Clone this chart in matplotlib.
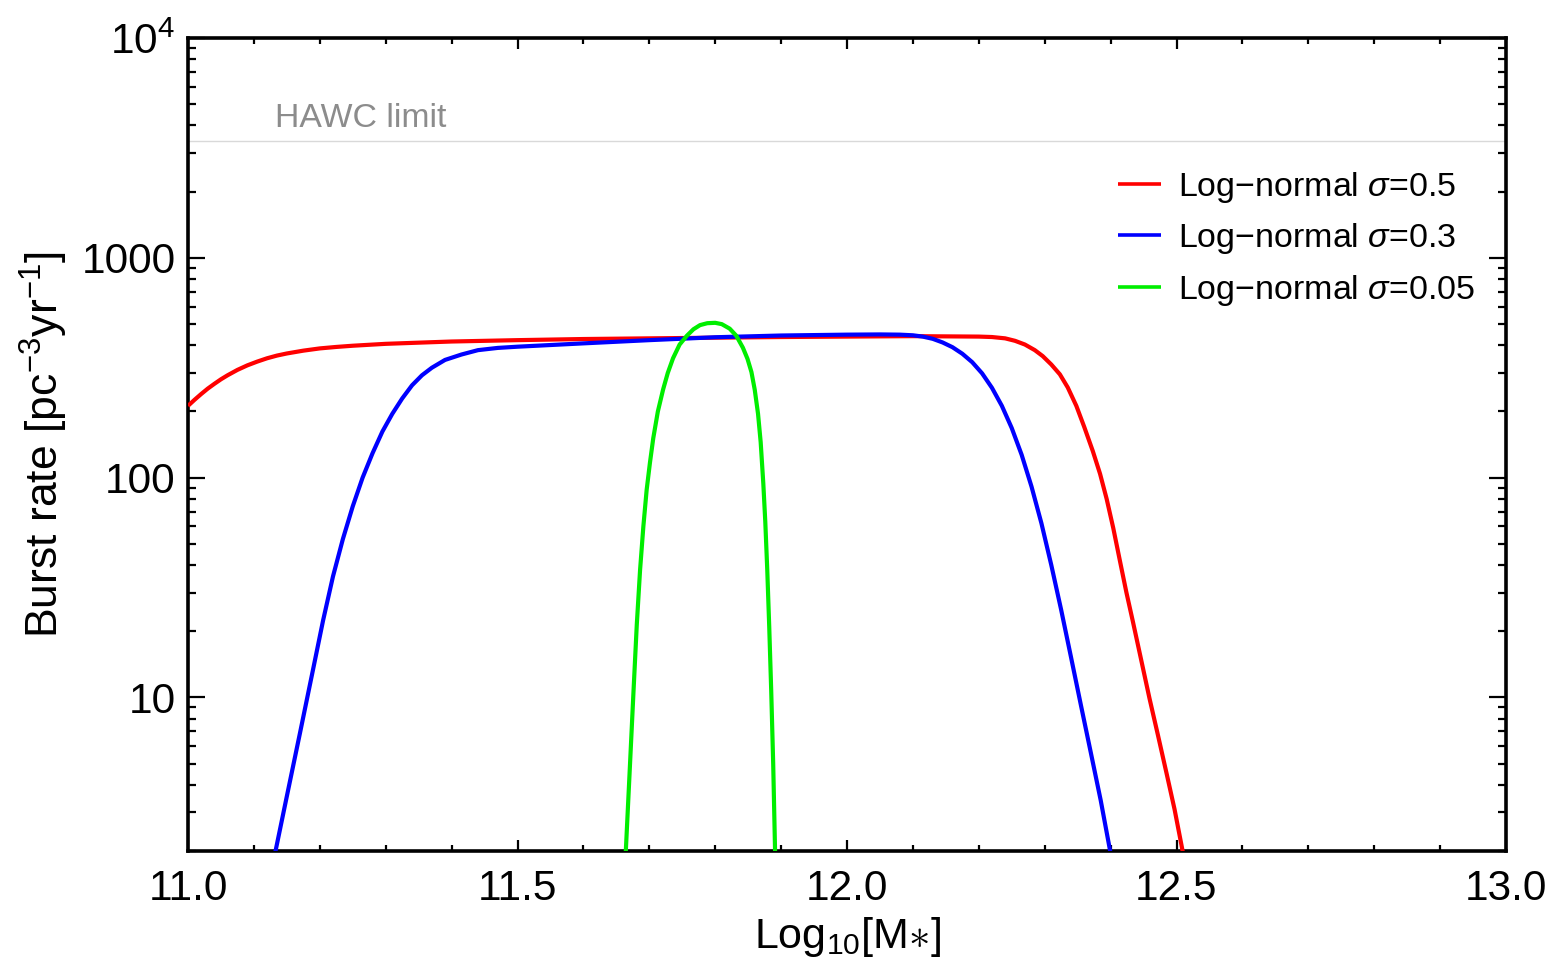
import matplotlib
matplotlib.use("Agg")
import matplotlib.pyplot as plt
from matplotlib.ticker import FixedLocator, MultipleLocator, LogLocator, NullFormatter

plt.rcParams['font.family'] = ['Liberation Sans', 'DejaVu Sans']
plt.rcParams['mathtext.fontset'] = 'custom'
plt.rcParams['mathtext.rm'] = 'Liberation Sans'
plt.rcParams['mathtext.it'] = 'Liberation Sans:italic'
plt.rcParams['mathtext.bf'] = 'Liberation Sans:bold'

# Burst rate vs. log10 of the central mass for three log-normal widths
x_s05 = [11.00, 11.01, 11.02, 11.03, 11.04, 11.05, 11.06, 11.075, 11.09, 11.105,
         11.12, 11.135, 11.15, 11.175, 11.20, 11.225, 11.25, 11.275, 11.30, 11.35,
         11.40, 11.50, 11.60, 11.70, 11.80, 11.90, 12.00, 12.10, 12.20, 12.22,
         12.24, 12.255, 12.27, 12.285, 12.297, 12.31, 12.323, 12.335, 12.348, 12.36,
         12.373, 12.384, 12.394, 12.404, 12.414, 12.424, 12.434, 12.446, 12.459, 12.472,
         12.485, 12.497, 12.51]
y_s05 = [212, 226, 240, 254, 267, 280, 292, 309, 324, 337,
         349, 359, 367, 378, 387, 393, 398, 402, 406, 411,
         416, 422, 427, 430, 433, 436, 438, 440, 438, 436,
         430, 419, 403, 380, 357, 327, 295, 257, 212, 170,
         132, 104, 80, 59, 42, 30, 22, 15, 9.9, 6.7,
         4.5, 3.1, 1.95]

x_s03 = [11.13, 11.15, 11.17, 11.19, 11.205, 11.22, 11.235, 11.25, 11.265, 11.28,
         11.295, 11.31, 11.325, 11.34, 11.355, 11.37, 11.39, 11.415, 11.44, 11.47,
         11.50, 11.60, 11.70, 11.80, 11.90, 12.00, 12.05, 12.08, 12.10, 12.115,
         12.13, 12.145, 12.16, 12.175, 12.19, 12.205, 12.22, 12.235, 12.25, 12.265,
         12.28, 12.295, 12.31, 12.325, 12.34, 12.355, 12.37, 12.385, 12.40]
y_s03 = [1.82, 3.55, 6.9, 13.5, 22.4, 35.5, 52.5, 74, 100, 129,
         162, 195, 229, 263, 292, 316, 343, 363, 380, 389,
         394, 408, 422, 435, 443, 447, 448, 447, 444, 438,
         428, 412, 392, 366, 335, 298, 256, 212, 168, 127,
         91, 62, 40, 25, 15.2, 9.2, 5.6, 3.4, 1.95]

x_s005 = [11.664, 11.670, 11.676, 11.681, 11.686, 11.691, 11.696, 11.701, 11.706, 11.713,
          11.721, 11.728, 11.736, 11.746, 11.757, 11.767, 11.777, 11.788, 11.800, 11.810,
          11.822, 11.832, 11.842, 11.849, 11.855, 11.860, 11.865, 11.869, 11.873, 11.876,
          11.879, 11.882, 11.885, 11.888, 11.891]
y_s005 = [1.9, 4.47, 10.6, 21.4, 38, 60, 88, 117, 151, 200,
          252, 299, 349, 403, 442, 473, 494, 504, 506, 499,
          476, 442, 390, 347, 302, 251, 195, 145, 94, 63,
          38, 20.9, 10.7, 5.0, 1.9]

hawc_limit = 3400

series = [
    (x_s05, y_s05, '#ff0000', r'Log$-$normal $\sigma$=0.5'),
    (x_s03, y_s03, '#0000ff', r'Log$-$normal $\sigma$=0.3'),
    (x_s005, y_s005, '#00ee00', r'Log$-$normal $\sigma$=0.05'),
]

fig = plt.figure(figsize=(15.52, 9.72), dpi=100)
ax = fig.add_axes([188 / 1552, 1 - 851 / 972, (1506 - 188) / 1552, (851 - 38) / 972])

ax.axhline(hawc_limit, color='#d9d9d9', lw=1.0, zorder=1)
ax.text(11.132, 3950, 'HAWC limit', color='#8c8c8c', fontsize=24.3,
        ha='left', va='baseline')

for xs, ys, col, lab in series:
    ax.plot(xs, ys, color=col, lw=3.0, label=lab, solid_joinstyle='round',
            solid_capstyle='butt', zorder=3)

ax.set_xlim(11.0, 13.0)
ax.set_yscale('log')
ax.set_ylim(2, 1e4)

ax.xaxis.set_major_locator(FixedLocator([11.0, 11.5, 12.0, 12.5, 13.0]))
ax.set_xticklabels(['11.0', '11.5', '12.0', '12.5', '13.0'])
ax.xaxis.set_minor_locator(MultipleLocator(0.1))

ax.yaxis.set_major_locator(FixedLocator([10, 100, 1000, 10000]))
ax.set_yticklabels(['10', '100', '1000', r'$10^4$'])
ax.yaxis.set_minor_locator(LogLocator(base=10, subs=range(2, 10), numticks=20))
ax.yaxis.set_minor_formatter(NullFormatter())

ax.tick_params(axis='both', which='both', direction='in', top=True, right=True,
               labelsize=30.5, width=1.6, colors='black')
ax.tick_params(axis='x', which='major', length=8, pad=13)
ax.tick_params(axis='x', which='minor', length=4.5)
ax.tick_params(axis='y', which='major', length=12, pad=9)
ax.tick_params(axis='y', which='minor', length=6)

for sp in ax.spines.values():
    sp.set_linewidth(2.6)

ax.set_xlabel(r'Log$_{10}$[M$\ast$]', fontsize=31, labelpad=4)
ax.set_ylabel(r'Burst rate [pc$^{-3}$yr$^{-1}$]', fontsize=32, labelpad=8)

leg = ax.legend(loc='upper left', bbox_to_anchor=((1118 - 188) / 1318, (851 - 170) / 813),
                frameon=False, fontsize=24.5, handlelength=1.25, handletextpad=0.5,
                labelspacing=0.48, borderpad=0, borderaxespad=0)
for h in leg.get_lines():
    h.set_linewidth(2.6)

fig.savefig('out.png', dpi=100)
